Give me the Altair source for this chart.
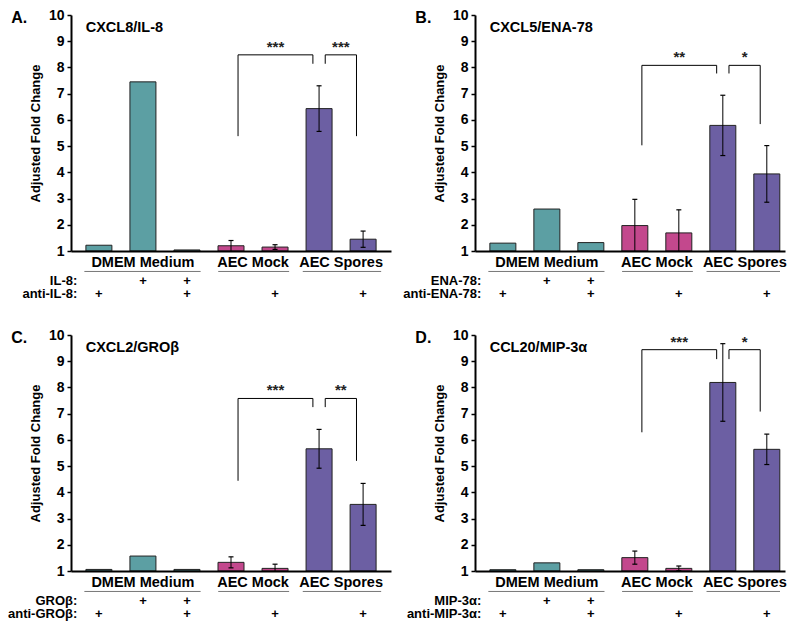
import altair as alt
import pandas as pd

# ---------------- data ----------------
bar_groups = ["DMEM Medium", "DMEM Medium", "DMEM Medium",
              "AEC Mock", "AEC Mock", "AEC Spores", "AEC Spores"]
group_names = ["DMEM Medium", "AEC Mock", "AEC Spores"]
group_colors = ["#5C9FA3", "#C3488D", "#6C5FA3"]

agent_added = ["", "+", "+", "", "", "", ""]
antibody_added = ["+", "", "+", "", "+", "", "+"]

panel_letters = ["A.", "B.", "C.", "D."]
panel_titles = ["CXCL8/IL-8", "CXCL5/ENA-78", "CXCL2/GROβ", "CCL20/MIP-3α"]
agent_names = ["IL-8", "ENA-78", "GROβ", "MIP-3α"]

il8_mean = [1.22, 7.45, 1.04, 1.20, 1.15, 6.43, 1.45]
il8_sem = [None, None, None, 0.20, 0.09, 0.87, 0.31]
ena78_mean = [1.30, 2.60, 1.32, 1.97, 1.69, 5.79, 3.94]
ena78_sem = [None, None, None, 1.00, 0.88, 1.15, 1.08]
grob_mean = [1.06, 1.57, 1.06, 1.33, 1.10, 5.66, 3.54]
grob_sem = [None, None, None, 0.21, 0.16, 0.74, 0.80]
mip3a_mean = [1.05, 1.31, 1.05, 1.51, 1.10, 8.19, 5.64]
mip3a_sem = [None, None, None, 0.25, 0.09, 1.48, 0.58]

# significance brackets: (Mock vs Spores, Spores vs Spores + antibody)
sig_labels = [["***", "***"], ["**", "*"], ["***", "**"], ["***", "*"]]
bracket_top = [8.48, 8.08, 7.58, 9.44]
bracket_left_leg = [5.38, 5.03, 4.44, 6.29]
bracket_inner_leg = [8.14, 7.77, 7.25, 9.08]
bracket_right_leg = [5.38, 5.84, 5.20, 7.08]

all_means = [il8_mean, ena78_mean, grob_mean, mip3a_mean]
all_sems = [il8_sem, ena78_sem, grob_sem, mip3a_sem]

# ---------------- layout ----------------
FONT = "Liberation Sans"
H = 236
XMIN = -0.52
BR1 = (3.16, 4.86)
BR2 = (5.14, 5.85)

X_AXIS = alt.Axis(labels=False, ticks=False, grid=False, title=None,
                  domainColor="black", domainWidth=2, zindex=1)
Y_AXIS = alt.Axis(values=list(range(1, 11)), title="Adjusted Fold Change",
                  grid=False, domainColor="black", domainWidth=2,
                  tickColor="black", tickSize=4, tickWidth=1.5,
                  labelColor="black", labelFontSize=14, labelFontWeight="bold",
                  labelPadding=3, titleColor="black", titleFontSize=13,
                  titleFontWeight="bold", titlePadding=6, zindex=1)


def make_panel(i, xmax, width):
    xs = alt.Scale(domain=[XMIN, xmax], nice=False, zero=False)
    ys = alt.Scale(domain=[1, 10], nice=False, zero=False)

    def X(f):
        return alt.X(f, scale=xs, axis=X_AXIS)

    def Y(f):
        return alt.Y(f, scale=ys, axis=Y_AXIS)

    df = pd.DataFrame({"pos": list(range(7)), "mean": all_means[i],
                       "group": bar_groups, "sem": all_sems[i]})
    df["sem"] = df["sem"].astype(float)

    bars = alt.Chart(df).mark_bar(size=26, stroke="#222222", strokeWidth=1).encode(
        x=X("pos:Q"),
        y=Y("mean:Q"),
        y2=alt.datum(1),
        color=alt.Color("group:N", scale=alt.Scale(domain=group_names, range=group_colors),
                        legend=None),
    )

    e = df.dropna(subset=["sem"]).copy()
    e["hi"] = e["mean"] + e["sem"]
    e["lo_raw"] = e["mean"] - e["sem"]
    e["lo"] = e["lo_raw"].clip(lower=1)
    e_lo = e[e["lo_raw"] > 1.0]

    err_rule = alt.Chart(e).mark_rule(color="black", strokeWidth=1).encode(
        x=X("pos:Q"), y=Y("lo:Q"), y2="hi:Q")
    cap_hi = alt.Chart(e).mark_tick(orient="horizontal", size=5, thickness=1.2,
                                    color="black", opacity=1).encode(x=X("pos:Q"), y=Y("hi:Q"))
    cap_lo = alt.Chart(e_lo).mark_tick(orient="horizontal", size=5, thickness=1.2,
                                       color="black", opacity=1).encode(x=X("pos:Q"), y=Y("lo:Q"))

    top = bracket_top[i]
    br_h = pd.DataFrame({"x1": [BR1[0], BR2[0]], "x2": [BR1[1], BR2[1]], "y": [top, top]})
    br_v = pd.DataFrame({"x": [BR1[0], BR1[1], BR2[0], BR2[1]],
                         "y": [bracket_left_leg[i], bracket_inner_leg[i],
                               bracket_inner_leg[i], bracket_right_leg[i]],
                         "y2": [top] * 4})
    stars = pd.DataFrame({"x": [(BR1[0] + BR1[1]) / 2, (BR2[0] + BR2[1]) / 2],
                          "y": [top + 0.12] * 2, "t": sig_labels[i]})

    bh = alt.Chart(br_h).mark_rule(color="black", strokeWidth=1).encode(
        x=X("x1:Q"), x2="x2:Q", y=Y("y:Q"))
    bv = alt.Chart(br_v).mark_rule(color="black", strokeWidth=1).encode(
        x=X("x:Q"), y=Y("y:Q"), y2="y2:Q")
    st = alt.Chart(stars).mark_text(font=FONT, fontSize=15, fontWeight="bold",
                                    color="#222222", baseline="alphabetic").encode(
        x=X("x:Q"), y=Y("y:Q"), text="t:N")

    # group labels + underlines
    gl = pd.DataFrame({"x": [1.0, 3.5, 5.5], "y": [0.54] * 3, "t": group_names})
    ul = pd.DataFrame({"x1": [-0.33, 2.71, 4.63], "x2": [2.31, 4.32, min(6.41, xmax)],
                       "y": [0.22] * 3})
    glt = alt.Chart(gl).mark_text(font=FONT, fontSize=14.5, fontWeight="bold", color="black",
                                  baseline="middle").encode(x=X("x:Q"), y=Y("y:Q"), text="t:N")
    ulr = alt.Chart(ul).mark_rule(color="#777777", strokeWidth=1).encode(
        x=X("x1:Q"), x2="x2:Q", y=Y("y:Q"))

    # treatment rows
    rows = pd.DataFrame({"x": [XMIN + 0.03] * 2, "y": [-0.14, -0.65],
                         "t": [agent_names[i] + ":", "anti-" + agent_names[i] + ":"]})
    rowt = alt.Chart(rows).mark_text(font=FONT, fontSize=13, fontWeight="bold", color="black",
                                     align="right", baseline="middle").encode(
        x=X("x:Q"), y=Y("y:Q"), text="t:N")
    plus_rows = []
    for p in range(7):
        if agent_added[p]:
            plus_rows.append({"x": p, "y": -0.14, "t": agent_added[p]})
        if antibody_added[p]:
            plus_rows.append({"x": p, "y": -0.65, "t": antibody_added[p]})
    plus = alt.Chart(pd.DataFrame(plus_rows)).mark_text(
        font=FONT, fontSize=13, fontWeight="bold", color="black", baseline="middle").encode(
        x=X("x:Q"), y=Y("y:Q"), text="t:N")

    lab = pd.DataFrame({"x": [-1.99], "y": [9.9], "t": [panel_letters[i]]})
    labt = alt.Chart(lab).mark_text(font=FONT, fontSize=16, fontWeight="bold", color="black",
                                    align="left", baseline="middle").encode(
        x=X("x:Q"), y=Y("y:Q"), text="t:N")
    ttl = pd.DataFrame({"x": [-0.30], "y": [9.5], "t": [panel_titles[i]]})
    ttlt = alt.Chart(ttl).mark_text(font=FONT, fontSize=14.5, fontWeight="bold", color="black",
                                    align="left", baseline="middle").encode(
        x=X("x:Q"), y=Y("y:Q"), text="t:N")

    return alt.layer(bars, err_rule, cap_hi, cap_lo, bh, bv, st, glt, ulr, rowt, plus,
                     labt, ttlt).properties(width=width, height=H)


pA = make_panel(0, 6.52, 320)
pB = make_panel(1, 6.30, 310)
pC = make_panel(2, 6.52, 320)
pD = make_panel(3, 6.30, 310)

chart = alt.concat(pA, pB, pC, pD, columns=2, spacing={"row": 26, "column": 12},
                   align="each").properties(
    padding={"left": 0, "top": 0, "right": 0, "bottom": 0}
).configure_view(stroke=None).configure_axis(labelFont=FONT, titleFont=FONT)

chart.save("out.html", embed_options={"renderer": "svg", "actions": False})
